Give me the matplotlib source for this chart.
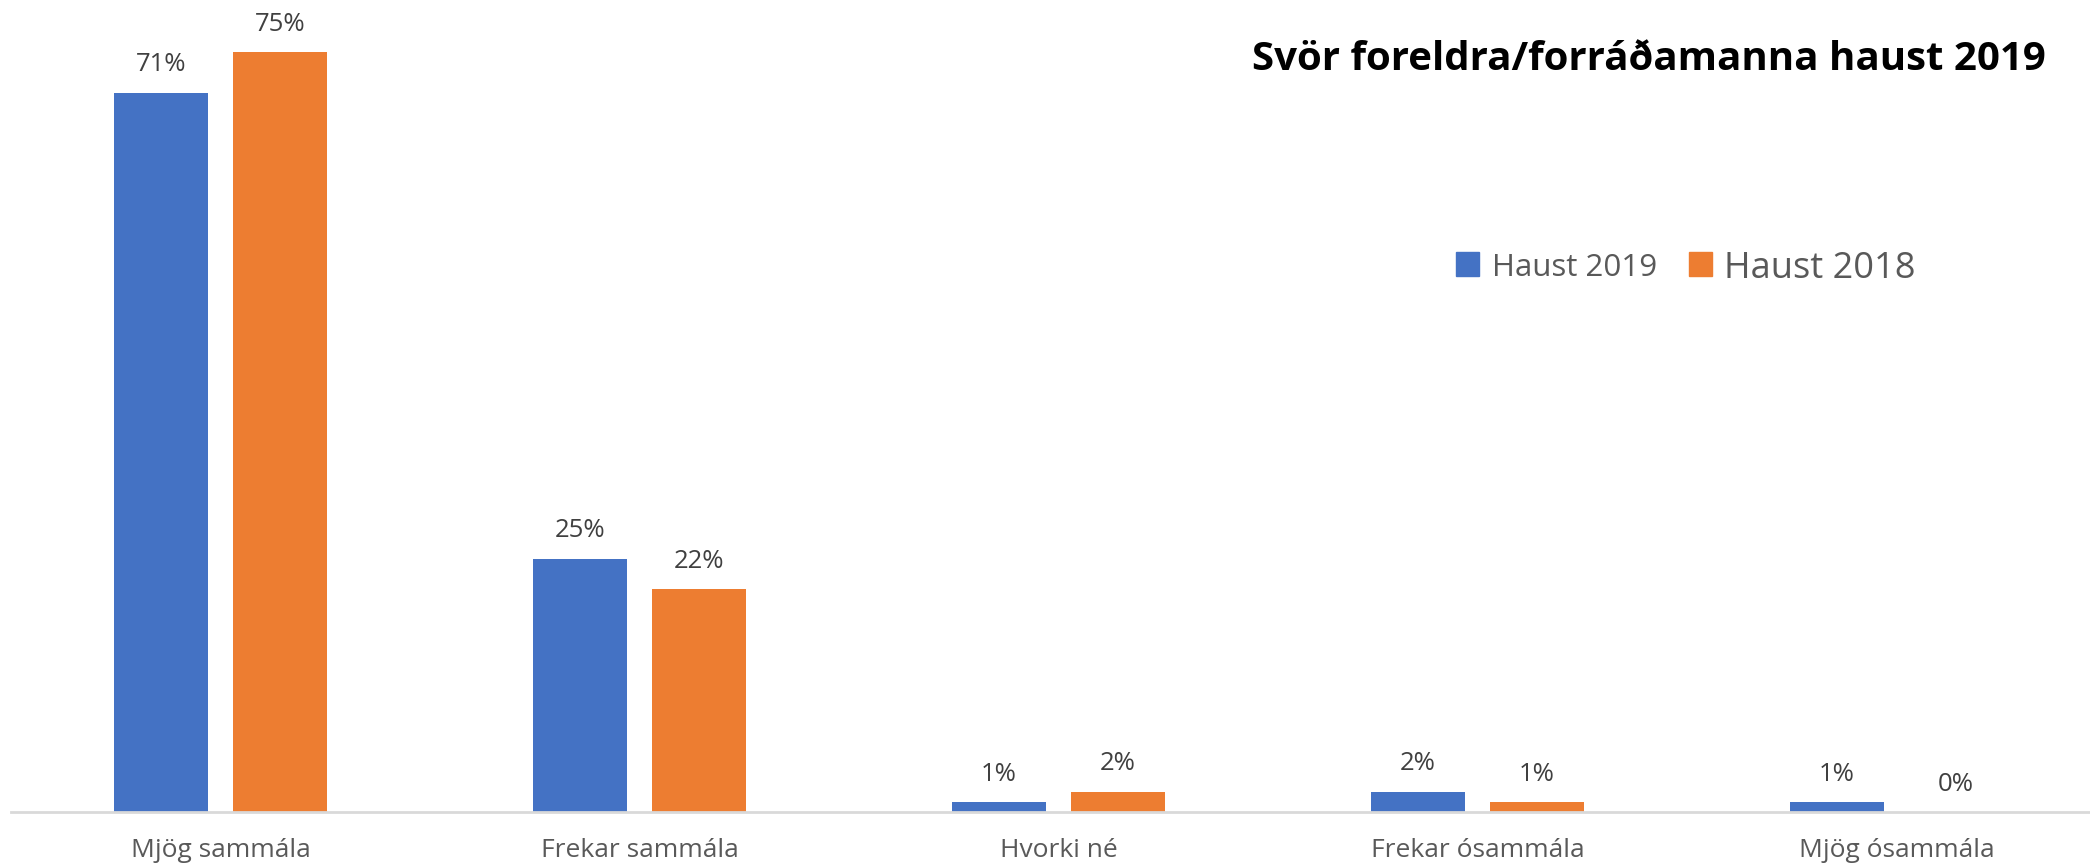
import matplotlib
matplotlib.use("Agg")
import matplotlib.pyplot as plt
import numpy as np
from matplotlib.patches import Rectangle

categories = ["Mjög sammála", "Frekar sammála", "Hvorki né", "Frekar ósammála", "Mjög ósammála"]
series_names = ["Haust 2019", "Haust 2018"]
haust_2019 = [71, 25, 1, 2, 1]
haust_2018 = [75, 22, 2, 1, 0]
title = "Svör foreldra/forráðamanna haust 2019"

colors = ["#4472C4", "#ED7D31"]
W, H = 2090, 865
fig = plt.figure(figsize=(W / 100, H / 100), dpi=100)
plt.rcParams['font.family'] = ['Open Sans', 'DejaVu Sans']

# axes: x from 11 to 2106 px, y baseline at 812 px, 10.13 px per percent
x0, x1 = 11, 2106
ybase = 812
ppp = 10.13
ymax = 80
ax = fig.add_axes([x0 / W, (H - ybase) / H, (x1 - x0) / W, ppp * ymax / H])
ax.set_xlim(-0.5, len(categories) - 0.5)
ax.set_ylim(0, ymax)

x = np.arange(len(categories))
bw = 94 / 419
off = (47 + 12.5) / 419
for vals, c, sgn in [(haust_2019, colors[0], -1), (haust_2018, colors[1], 1)]:
    bars = ax.bar(x + sgn * off, vals, width=bw, color=c, zorder=2)
    for b, v in zip(bars, vals):
        ax.annotate(f"{v}%", (b.get_x() + b.get_width() / 2, v), xytext=(0, 11),
                    textcoords="offset points", ha="center", va="bottom",
                    fontsize=18.5, color="#404040")

for s in ["top", "right", "left"]:
    ax.spines[s].set_visible(False)
ax.spines["bottom"].set_color("#D9D9D9")
ax.spines["bottom"].set_linewidth(2)
ax.set_yticks([])
ax.set_xticks(x)
ax.set_xticklabels(categories, fontsize=19, color="#595959")
ax.tick_params(axis="x", length=0, pad=19)

fig.text(2046 / W, 1 - 59 / H, title, ha="right", va="center", fontsize=29,
         fontweight="bold", color="black")

# legend
ly = 264
sq = 23
for (lx, tx, name, c, fs) in [(1456, 1492, series_names[0], colors[0], 22.5),
                              (1689, 1724, series_names[1], colors[1], 26)]:
    fig.patches.append(Rectangle((lx / W, 1 - (ly + sq / 2) / H), sq / W, sq / H,
                                 transform=fig.transFigure, color=c))
    fig.text(tx / W, 1 - ly / H, name, ha="left", va="center_baseline", fontsize=fs,
             color="#595959")

fig.savefig("out.png", dpi=100)
